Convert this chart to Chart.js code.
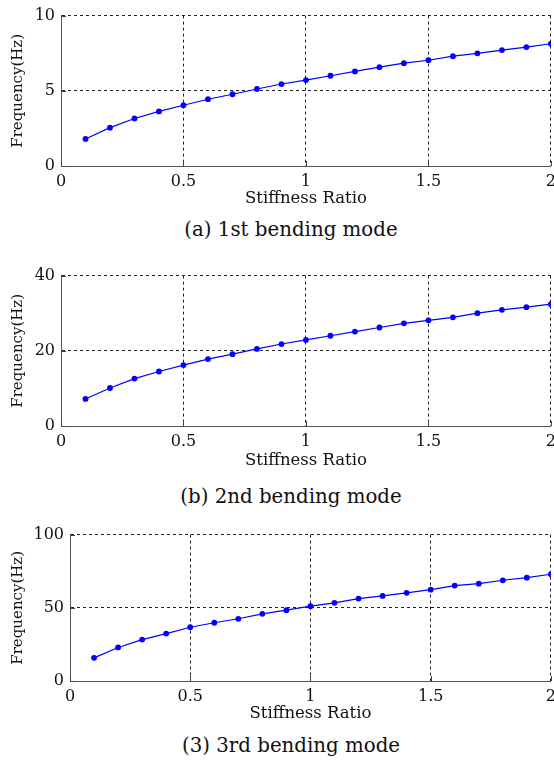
<!DOCTYPE html>
<html>
<head>
<meta charset="utf-8">
<script src="https://cdn.jsdelivr.net/npm/chart.js@4.4.0/dist/chart.umd.min.js"></script>
<style>
  html, body { margin: 0; padding: 0; background: #fff; }
  body { width: 554px; height: 768px; overflow: hidden; position: relative; }
  canvas { position: absolute; left: 0; }
  .caption {
    position: absolute; left: 0; width: 582px; text-align: center;
    font-family: "DejaVu Serif", serif; font-size: 19.8px; color: #111;
    line-height: 24px;
  }
</style>
</head>
<body>
<canvas id="mode1" width="562" height="215" style="top:0px"></canvas>
<canvas id="mode2" width="562" height="215" style="top:260px"></canvas>
<canvas id="mode3" width="562" height="211" style="top:519px"></canvas>
<div class="caption" style="top:218px">(a) 1st bending mode</div>
<div class="caption" style="top:485px">(b) 2nd bending mode</div>
<div class="caption" style="top:734px">(3) 3rd bending mode</div>

<script>
// Stiffness ratio values (x axis)
const stiffness = [0.1, 0.2, 0.3, 0.4, 0.5, 0.6, 0.7, 0.8, 0.9, 1.0,
                   1.1, 1.2, 1.3, 1.4, 1.5, 1.6, 1.7, 1.8, 1.9, 2.0];

// Frequencies (Hz)
const mode1 = [1.80, 2.55, 3.16, 3.63, 4.04, 4.44, 4.77, 5.12, 5.45, 5.71,
               6.00, 6.29, 6.57, 6.84, 7.03, 7.30, 7.49, 7.71, 7.91, 8.13];
const mode2 = [7.2, 10.1, 12.6, 14.5, 16.2, 17.8, 19.1, 20.5, 21.8, 22.9,
               24.0, 25.1, 26.2, 27.3, 28.1, 28.9, 30.0, 30.9, 31.6, 32.4];
const mode3 = [15.8, 22.9, 28.3, 32.4, 36.7, 39.8, 42.5, 45.9, 48.4, 51.1,
               53.4, 56.3, 58.1, 60.2, 62.4, 65.2, 66.5, 68.8, 70.6, 72.9];

// Tick labels
const xTicks = [0, 0.5, 1, 1.5, 2];
const yTicks1 = [0, 5, 10];
const yTicks2 = [0, 20, 40];
const yTicks3 = [0, 50, 100];

const FONT = "DejaVu Serif";
const TEXT = "#111";
const BLUE = "#0000ff";

// MATLAB style inward tick marks
const innerTicks = {
  id: 'innerTicks',
  afterDraw(chart) {
    const { ctx, chartArea, scales } = chart;
    ctx.save();
    ctx.strokeStyle = '#444';
    ctx.lineWidth = 1;
    ctx.beginPath();
    scales.x.ticks.forEach(t => {
      const px = Math.round(scales.x.getPixelForValue(t.value)) + 0.5;
      ctx.moveTo(px, chartArea.bottom);
      ctx.lineTo(px, chartArea.bottom - 5);
    });
    scales.y.ticks.forEach(t => {
      const py = Math.round(scales.y.getPixelForValue(t.value)) + 0.5;
      ctx.moveTo(chartArea.left, py);
      ctx.lineTo(chartArea.left + 5, py);
    });
    ctx.stroke();
    ctx.restore();
  }
};

// Draw one bending mode chart
// plotBottom = y of x axis inside the canvas, yWidth = width of y axis box
function drawMode(canvasId, values, yTicks, yWidth, plotBottom, titlePad) {
  const canvas = document.getElementById(canvasId);
  const ctx = canvas.getContext('2d');

  return new Chart(ctx, {
    type: 'line',
    data: {
      datasets: [{
        data: stiffness.map((s, i) => ({ x: s, y: values[i] })),
        borderColor: BLUE,
        backgroundColor: BLUE,
        borderWidth: 1.2,
        pointRadius: 2.9,
        pointBorderWidth: 0,
        tension: 0
      }]
    },
    options: {
      responsive: false,
      animation: false,
      devicePixelRatio: 1,
      layout: { padding: { top: 15, right: 11, bottom: 0, left: 0 } },
      plugins: { legend: { display: false }, tooltip: { enabled: false } },
      scales: {
        x: {
          type: 'linear',
          min: 0,
          max: 2,
          afterBuildTicks: scale => { scale.ticks = xTicks.map(v => ({ value: v })); },
          afterFit: scale => { scale.height = canvas.height - plotBottom; },
          ticks: {
            padding: 6, color: TEXT, font: { family: FONT, size: 16 }, maxRotation: 0,
            callback: v => String(v)
          },
          grid: { color: '#222', drawTicks: false, lineWidth: 1 },
          border: { display: true, color: '#555', width: 1, dash: [3, 3] },
          title: {
            display: true, text: 'Stiffness Ratio', color: TEXT,
            font: { family: FONT, size: 16.5 }, padding: { top: 0, bottom: titlePad }
          }
        },
        y: {
          min: yTicks[0],
          max: yTicks[yTicks.length - 1],
          afterBuildTicks: scale => { scale.ticks = yTicks.map(v => ({ value: v })); },
          afterFit: scale => { scale.width = yWidth; },
          ticks: {
            padding: 6, color: TEXT, font: { family: FONT, size: 16 },
            callback: v => String(v)
          },
          grid: { color: '#222', drawTicks: false, lineWidth: 1 },
          border: { display: true, color: '#555', width: 1, dash: [3, 3] },
          title: {
            display: true, text: 'Frequency(Hz)', color: TEXT,
            font: { family: FONT, size: 15 }, padding: { top: 9, bottom: 0 }
          }
        }
      }
    },
    plugins: [innerTicks]
  });
}

drawMode('mode1', mode1, yTicks1, 61, 166, 6);
drawMode('mode2', mode2, yTicks2, 61, 166, 4);
drawMode('mode3', mode3, yTicks3, 70, 162, 6);
</script>
</body>
</html>
